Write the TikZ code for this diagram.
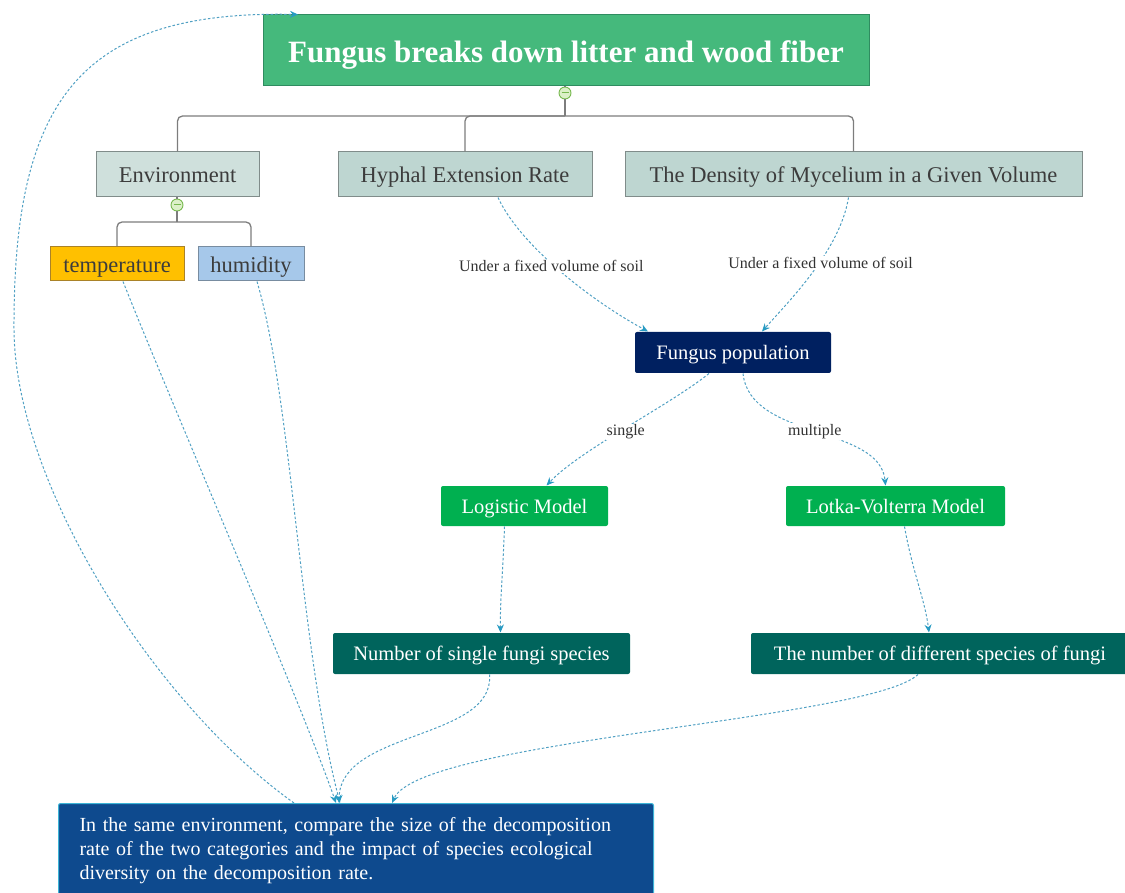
\documentclass[tikz,border=0pt]{standalone}
\usepackage{fontspec}
\setmainfont{Liberation Serif}
\usetikzlibrary{arrows.meta,calc}
\definecolor{titleg}{RGB}{69,185,124}
\definecolor{titleb}{RGB}{47,140,96}
\definecolor{envfill}{RGB}{207,224,220}
\definecolor{hypfill}{RGB}{190,214,209}
\definecolor{grayb}{RGB}{128,140,138}
\definecolor{graytxt}{RGB}{60,60,60}
\definecolor{tempfill}{RGB}{255,192,0}
\definecolor{tempb}{RGB}{170,130,40}
\definecolor{humfill}{RGB}{166,200,234}
\definecolor{humb}{RGB}{120,140,160}
\definecolor{popfill}{RGB}{0,32,96}
\definecolor{modfill}{RGB}{0,176,80}
\definecolor{numfill}{RGB}{0,100,92}
\definecolor{goalfill}{RGB}{14,74,142}
\definecolor{goalb}{RGB}{60,180,215}
\definecolor{linkc}{RGB}{80,160,195}
\definecolor{tipc}{RGB}{40,155,195}
\definecolor{treec}{RGB}{125,125,125}
\definecolor{minusf}{RGB}{220,240,200}
\definecolor{minusd}{RGB}{120,185,80}
\definecolor{labc}{RGB}{50,50,50}
\begin{document}
\begin{tikzpicture}[x=1pt,y=-1pt,
  box/.style={draw, line width=1pt, inner sep=0pt, align=center, text depth=0pt},
  titlebox/.style={box, fill=titleg, draw=titleb, text=white, text height=24pt,
    font=\fontsize{31}{35}\selectfont\bfseries, minimum width=606pt, minimum height=71pt},
  graybox/.style={box, draw=grayb, text=graytxt, text height=17pt,
    font=\fontsize{22.5}{26}\selectfont, minimum height=45pt},
  tempbox/.style={box, fill=tempfill, draw=tempb, text=graytxt, text height=18pt,
    font=\fontsize{22.5}{26}\selectfont, minimum height=34pt},
  humbox/.style={box, fill=humfill, draw=humb, text=graytxt, text height=18pt,
    font=\fontsize{22.5}{26}\selectfont, minimum height=34pt},
  darkbox/.style={box, draw=none, rounded corners=2pt, text=white, text height=14pt,
    font=\fontsize{20.5}{24}\selectfont, minimum height=41pt},
  popbox/.style={darkbox, fill=popfill},
  modelbox/.style={darkbox, fill=modfill, minimum height=40pt},
  numbox/.style={darkbox, fill=numfill},
  goalbox/.style={draw=goalb, line width=1pt, fill=goalfill, text=white, rounded corners=2pt,
    font=\fontsize{20}{24}\selectfont, align=left, inner xsep=21pt, inner ysep=0pt,
    text width=553pt, minimum width=595pt, minimum height=94pt},
  link/.style={draw=linkc, line width=1pt, dash pattern=on 2.5pt off 2pt,
    -{Stealth[length=8pt,width=7pt,color=tipc]}},
  lab/.style={fill=white, inner sep=1pt, text=labc, font=\fontsize{16}{18}\selectfont},
  treeline/.style={draw=treec, line width=1.3pt, rounded corners=5pt},
  minus/.style={circle, draw=minusd, fill=minusf, line width=0.9pt, minimum size=12pt, inner sep=0pt,
    path picture={\draw[minusd, line width=1pt] ([xshift=2.5pt]path picture bounding box.west) -- ([xshift=-2.5pt]path picture bounding box.east);}}
]
\useasboundingbox (0,0) rectangle (1125,893);

% nodes
\node[titlebox] (title) at (566,50.5) {Fungus breaks down litter and wood fiber};
\node[minus] (m1) at (565,93) {};
\node[graybox, fill=envfill, minimum width=163pt] (env) at (177.5,174.5) {Environment};
\node[graybox, fill=hypfill, minimum width=254pt] (hyph) at (465,174.5) {Hyphal Extension Rate};
\node[graybox, fill=hypfill, minimum width=457pt] (dens) at (853.5,174.5) {The Density of Mycelium in a Given Volume};
\node[minus] (m2) at (177,205) {};
\node[tempbox, minimum width=134pt] (temp) at (117,264) {temperature};
\node[humbox, minimum width=106pt] (hum) at (251,264) {humidity};
\node[popbox, minimum width=196pt] (pop) at (733,352.5) {Fungus population};
\node[modelbox, minimum width=167pt] (logi) at (524.5,506) {Logistic Model};
\node[modelbox, minimum width=219pt] (lotka) at (895.5,506) {Lotka-Volterra Model};
\node[numbox, minimum width=297pt] (nsing) at (481.5,653.5) {Number of single fungi species};
\node[numbox, minimum width=378pt] (ndiff) at (940,653.5) {The number of different species of fungi};
\node[goalbox, anchor=north west] (goal) at (58,803) {In the same environment, compare the size of the decomposition\\rate of the two categories and the impact of species ecological\\diversity on the decomposition rate.};

% tree connectors
\coordinate (bar1) at (565,116);
\coordinate (bar2) at (177,222);
\draw[treeline] (title.south -| m1) -- (m1.north);
\draw[treeline] (m1.south) -- (bar1);
\draw[treeline] (env.north) |- (bar1) -| (dens.north);
\draw[treeline] (hyph.north) |- (bar1);
\draw[treeline] (env.south -| m2) -- (m2.north);
\draw[treeline] (m2.south) -- (bar2);
\draw[treeline] (temp.north) |- (bar2) -| (hum.north);

% links
\draw[link] ([xshift=33pt]hyph.south) .. controls (520,245) and (590,300) .. node[lab,pos=0.45,yshift=-3pt]{Under a fixed volume of soil} ([xshift=-85pt]pop.north);
\draw[link] ([xshift=-5pt]dens.south) .. controls (840,250) and (790,300) .. node[lab,pos=0.42,yshift=-2pt]{Under a fixed volume of soil} ([xshift=29pt]pop.north);
\draw[link] ([xshift=-24pt]pop.south) .. controls (670,405) and (580,450) .. node[lab,pos=0.5,yshift=-4pt]{single} ([xshift=22pt]logi.north);
\draw[link] ([xshift=10pt]pop.south) .. controls (750,440) and (880,425) .. node[lab,pos=0.5]{multiple} ([xshift=-10pt]lotka.north);
\draw[link] ([xshift=-20pt]logi.south) .. controls (503,570) and (500,600) .. ([xshift=19pt]nsing.north);
\draw[link] ([xshift=9pt]lotka.south) .. controls (912,570) and (925,600) .. ([xshift=-11pt]ndiff.north);
\draw[link] ([xshift=6pt]temp.south) .. controls (170,400) and (300,700) .. ([xshift=-20pt]goal.north);
\draw[link] ([xshift=6pt]hum.south) .. controls (292,400) and (300,650) .. ([xshift=-16pt]goal.north);
\draw[link] ([xshift=8pt]nsing.south) .. controls (495,740) and (340,730) .. ([xshift=-17pt]goal.north);
\draw[link] ([xshift=-22pt]ndiff.south) .. controls (870,720) and (420,740) .. ([xshift=36pt]goal.north);
\coordinate (via) at (14,330);
\draw[link] ([xshift=-62pt]goal.north) .. controls (150,700) and (15,480) .. (via) .. controls (13,100) and (80,10) .. ([xshift=-268pt]title.north);
\end{tikzpicture}
\end{document}
